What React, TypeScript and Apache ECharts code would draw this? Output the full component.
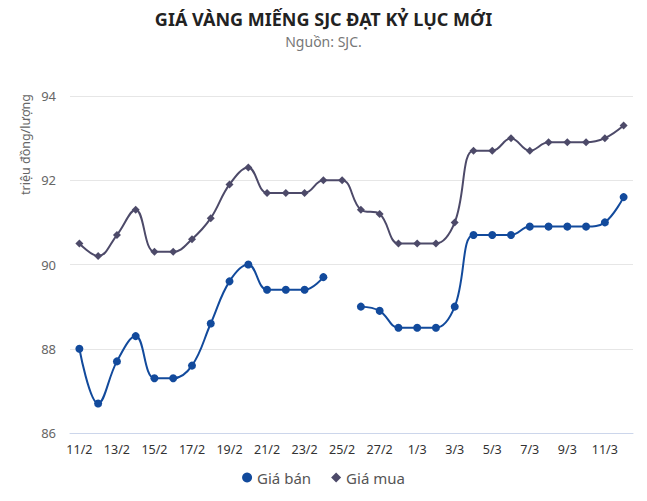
import React, { useEffect, useRef } from "react";
import * as echarts from "echarts";

const categories = [
  "11/2", "12/2", "13/2", "14/2", "15/2", "16/2", "17/2", "18/2", "19/2", "20/2",
  "21/2", "22/2", "23/2", "24/2", "25/2", "26/2", "27/2", "28/2", "1/3", "2/3",
  "3/3", "4/3", "5/3", "6/3", "7/3", "8/3", "9/3", "10/3", "11/3", "12/3",
];

const giaBan: (number | null)[] = [
  88.0, 86.7, 87.7, 88.3, 87.3, 87.3, 87.6, 88.6, 89.6, 90.0,
  89.4, 89.4, 89.4, 89.7, null, 89.0, 88.9, 88.5, 88.5, 88.5,
  89.0, 90.7, 90.7, 90.7, 90.9, 90.9, 90.9, 90.9, 91.0, 91.6,
];

const giaMua: number[] = [
  90.5, 90.2, 90.7, 91.3, 90.3, 90.3, 90.6, 91.1, 91.9, 92.3,
  91.7, 91.7, 91.7, 92.0, 92.0, 91.3, 91.2, 90.5, 90.5, 90.5,
  91.0, 92.7, 92.7, 93.0, 92.7, 92.9, 92.9, 92.9, 93.0, 93.3,
];

const title = "GIÁ VÀNG MIẾNG SJC ĐẠT KỶ LỤC MỚI";
const subtitle = "Nguồn: SJC.";
const yAxisName = "triệu đồng/lượng";

const FONT = "'Noto Sans', Lato, sans-serif";
const SELL_COLOR = "#124a9c";
const BUY_COLOR = "#4d4a69";

export default function App() {
  const ref = useRef<HTMLDivElement>(null);
  useEffect(() => {
    if (!ref.current) return;
    const chart = echarts.init(ref.current, null, { renderer: "svg" });
    chart.setOption({
      animation: false,
      backgroundColor: "#ffffff",
      textStyle: { fontFamily: FONT },
      title: {
        text: title,
        subtext: subtitle,
        left: "center",
        top: 5,
        itemGap: 6,
        textStyle: { fontSize: 18, fontWeight: "bold", color: "#222222", fontFamily: FONT },
        subtextStyle: { fontSize: 14, color: "#777777", fontFamily: FONT },
      },
      legend: {
        bottom: 11,
        left: "center",
        itemWidth: 10,
        itemHeight: 10,
        itemGap: 20,
        textStyle: { fontSize: 15, color: "#555555", fontFamily: FONT },
        data: [
          { name: "Giá bán", icon: "circle" },
          { name: "Giá mua", icon: "diamond" },
        ],
      },
      grid: { left: 70, right: 14, top: 96, bottom: 68 },
      graphic: [
        {
          type: "text",
          x: 25,
          y: 195,
          rotation: Math.PI / 2,
          style: {
            text: yAxisName,
            fill: "#666666",
            fontSize: 12.5,
            fontFamily: FONT,
            textAlign: "left",
            textVerticalAlign: "middle",
          },
        },
      ],
      xAxis: {
        type: "category",
        data: categories,
        boundaryGap: true,
        axisLine: { lineStyle: { color: "#ccd6eb" } },
        axisTick: { show: false },
        axisLabel: { interval: 1, color: "#333333", fontSize: 12.5, margin: 10, fontFamily: FONT },
      },
      yAxis: {
        type: "value",
        min: 86,
        max: 94,
        interval: 2,
        axisLine: { show: false },
        axisTick: { show: false },
        axisLabel: { color: "#666666", fontSize: 13, margin: 14, fontFamily: FONT },
        splitLine: { lineStyle: { color: "#e6e6e6" } },
      },
      series: [
        {
          name: "Giá bán",
          type: "line",
          data: giaBan,
          smooth: 0.4,
          connectNulls: false,
          symbol: "circle",
          symbolSize: 8,
          lineStyle: { width: 2, color: SELL_COLOR },
          itemStyle: { color: SELL_COLOR },
        },
        {
          name: "Giá mua",
          type: "line",
          data: giaMua,
          smooth: 0.4,
          symbol: "diamond",
          symbolSize: 8,
          lineStyle: { width: 2, color: BUY_COLOR },
          itemStyle: { color: BUY_COLOR },
        },
      ],
    });
    return () => chart.dispose();
  }, []);
  return (
    <div
      ref={ref}
      style={{ position: "absolute", left: 0, top: 0, width: 647, height: 501 }}
    />
  );
}
